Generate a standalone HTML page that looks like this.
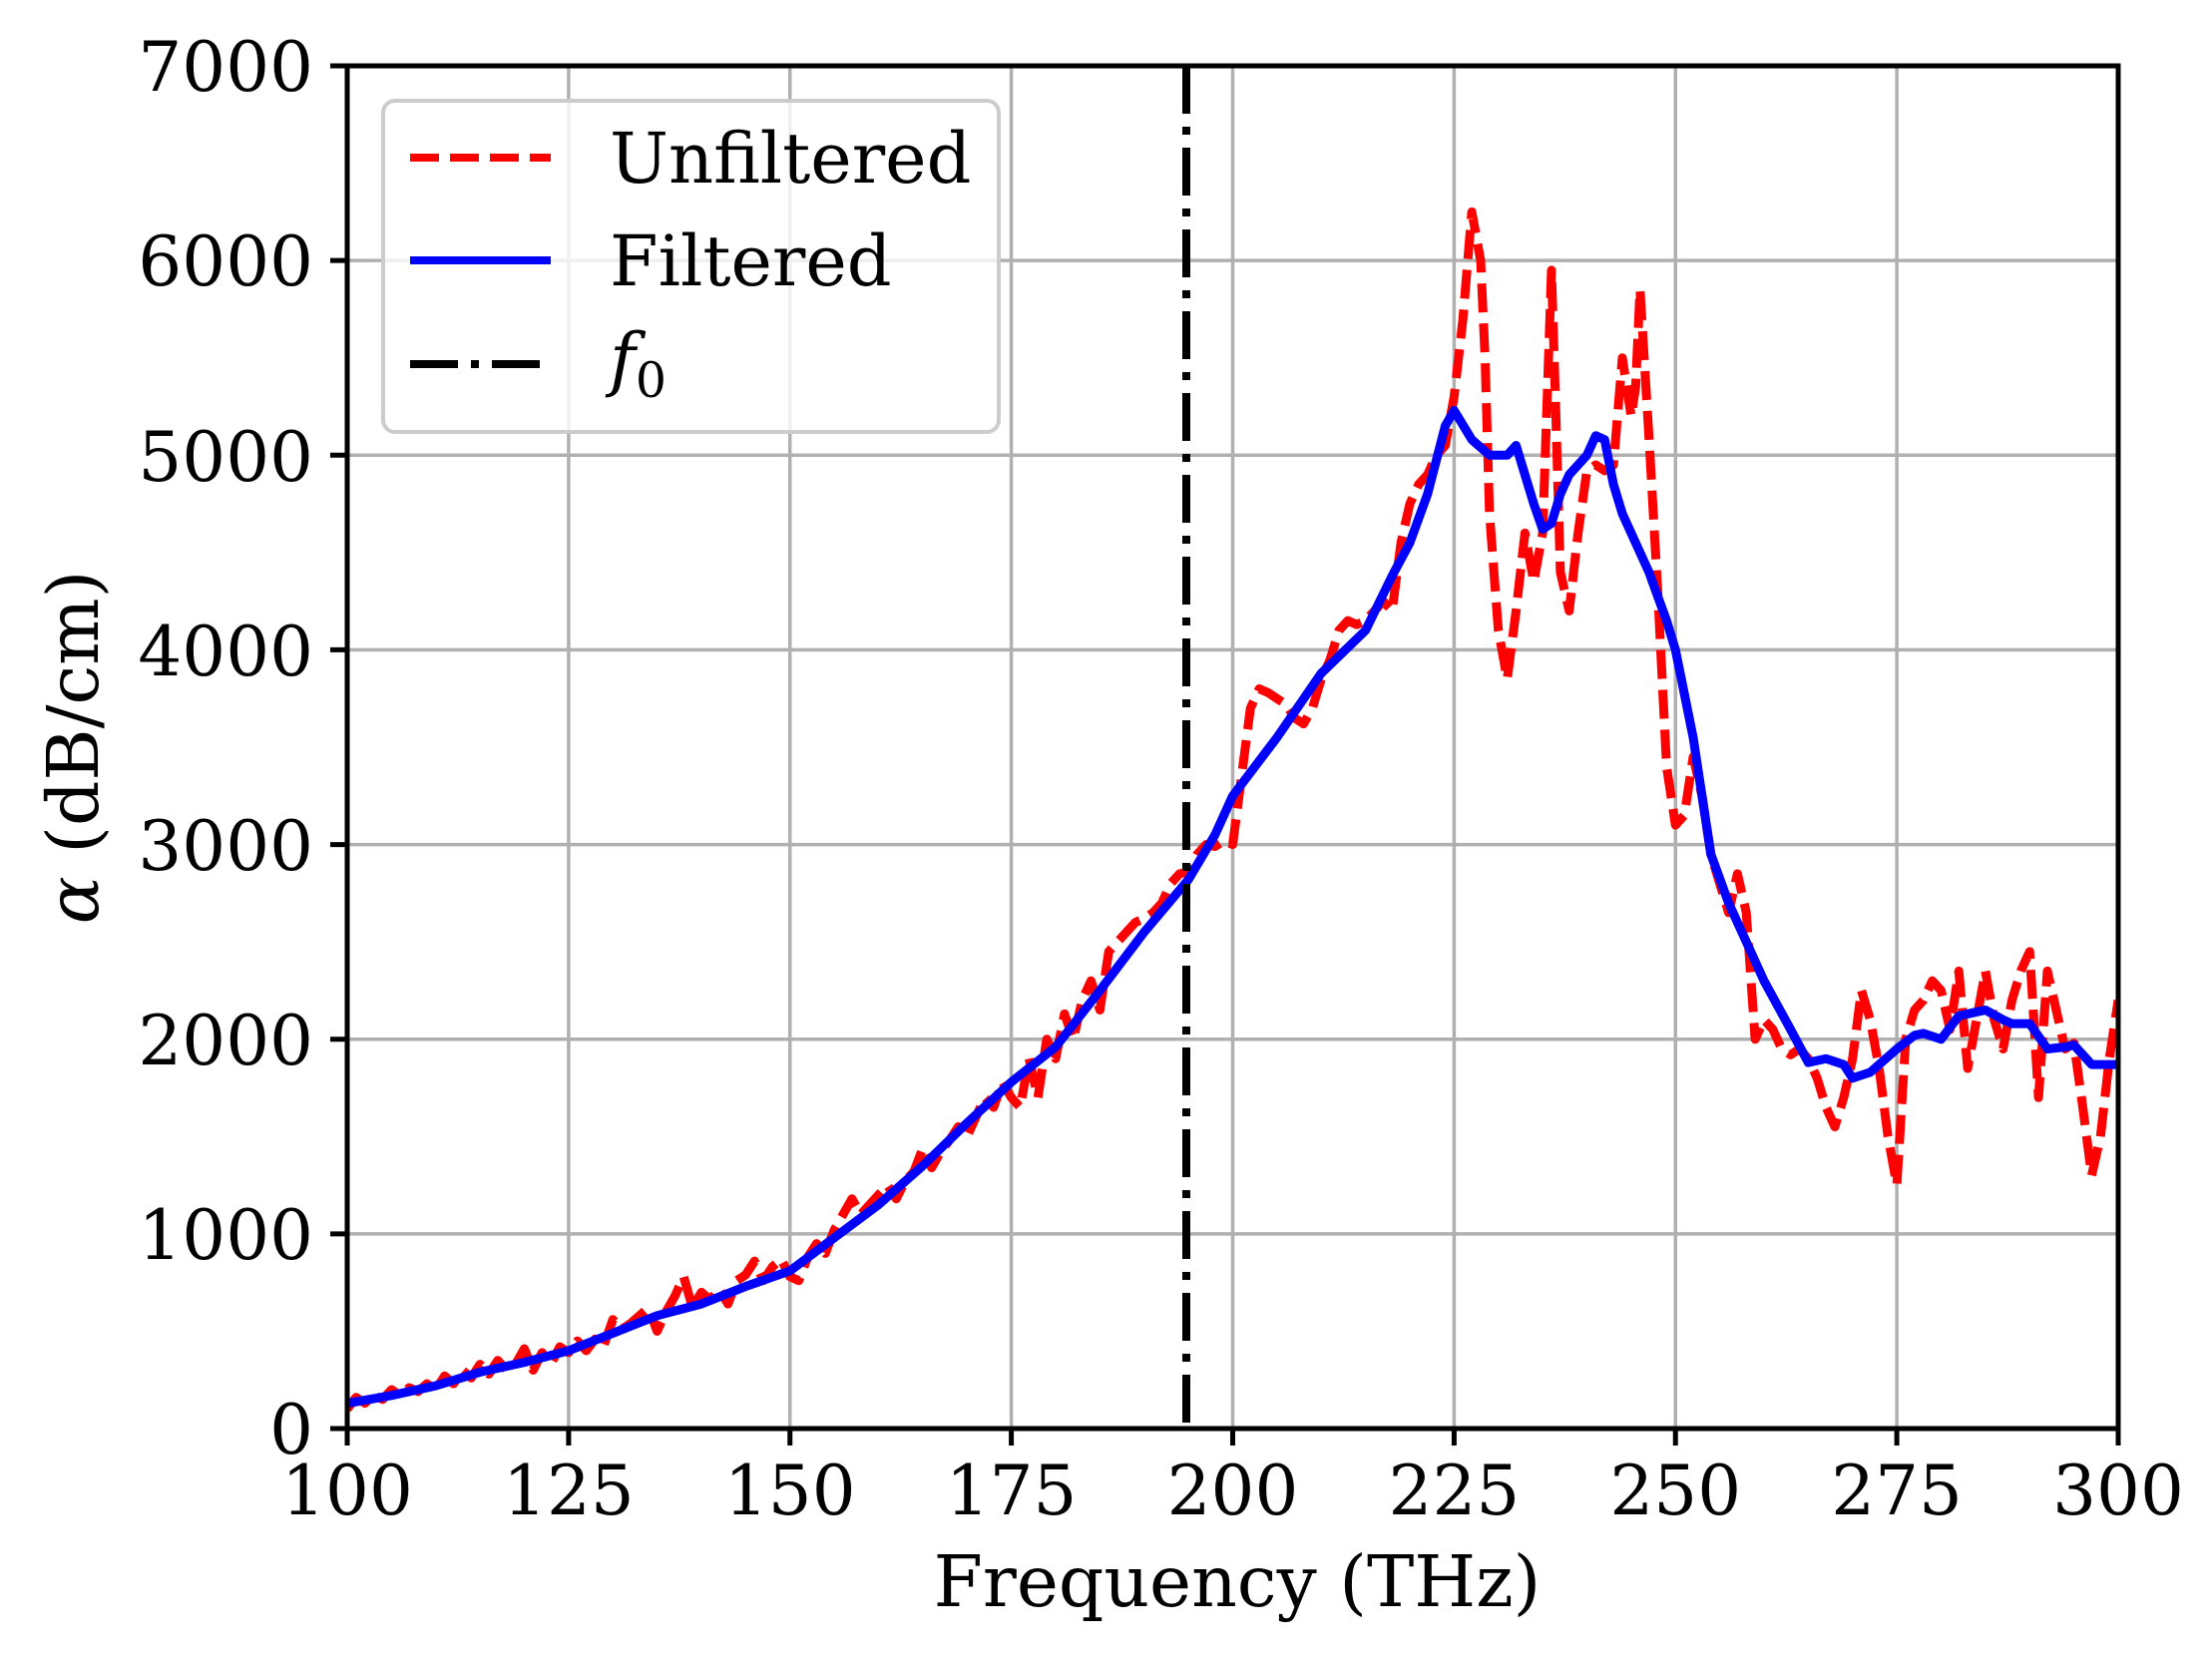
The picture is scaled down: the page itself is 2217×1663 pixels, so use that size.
<!DOCTYPE html>
<html><head><meta charset="utf-8"><style>
html,body{margin:0;padding:0;background:#fff;}
svg{display:block;font-family:"DejaVu Serif","Liberation Serif",serif;}
</style></head><body>
<svg width="2217" height="1663" viewBox="0 0 2217 1663" xmlns="http://www.w3.org/2000/svg">
<rect width="2217" height="1663" fill="#fff"/>
<g stroke="#b0b0b0" stroke-width="3.5">
<line x1="348" y1="66" x2="348" y2="1432"/>
<line x1="791.75" y1="66" x2="791.75" y2="1432"/>
<line x1="1235.5" y1="66" x2="1235.5" y2="1432"/>
<line x1="1679.25" y1="66" x2="1679.25" y2="1432"/>
<line x1="348" y1="1236.9" x2="2123" y2="1236.9"/>
<line x1="348" y1="1041.7" x2="2123" y2="1041.7"/>
<line x1="348" y1="846.6" x2="2123" y2="846.6"/>
<line x1="348" y1="651.4" x2="2123" y2="651.4"/>
<line x1="348" y1="456.3" x2="2123" y2="456.3"/>
<line x1="348" y1="261.1" x2="2123" y2="261.1"/>
<line x1="569.9" y1="66" x2="569.9" y2="1432"/>
<line x1="1013.6" y1="66" x2="1013.6" y2="1432"/>
<line x1="1457.4" y1="66" x2="1457.4" y2="1432"/>
<line x1="1901.1" y1="66" x2="1901.1" y2="1432"/>
</g>
<svg x="348" y="66" width="1775" height="1366" overflow="hidden">
<g transform="translate(0,1366) scale(8.875,-0.19514) translate(-100,0)" fill="none" stroke-linejoin="round">
<polyline vector-effect="non-scaling-stroke" stroke="#ff0000" stroke-width="9" stroke-dasharray="29,11" points="
100,100 101,160 102,130 103,170 104,150 105,200 106,170 107,210 108,190 109,230 110,200 111,270 112,230 113,300 114,260 115,330 116,280 117,350 118,300 119,330 120,410 121,300 122,390 123,330 124,420 125,390 126,450 127,400 128,460 129,430 130,560 131,510 132,540 133,580 134,620 135,500 136,600 137,680 138,780 139,620 140,700 141,660 142,720 143,640 144,760 145,790 146,860 147,760 148,830 149,870 150,780 151,760 152,880 153,950 154,900 155,1020 156,1100 157,1180 158,1100 159,1150 160,1200 161,1250 162,1180 163,1270 164,1320 165,1440 166,1340 167,1420 168,1480 169,1550 170,1500 171,1600 172,1700 173,1650 174,1780 175,1700 176,1650 177,1900 178,1700 179,2000 180,1900 181,2130 182,2000 183,2200 184,2300 185,2150 186,2450 187,2500 188,2550 189,2600 190,2620 191,2650 192,2700 193,2800 194,2850 195,2860 196,2950 197,3000 198,2990 199,3020 200,3000 201,3350 202,3700 203,3800 204,3780 205,3750 206,3720 207,3650 208,3620 209,3700 210,3850 211,3950 212,4100 213,4150 214,4130 215,4150 216,4200 217,4250 218,4200 219,4550 220,4750 221,4850 222,4900 223,5000 224,5050 225,5300 226,5700 227,6250 228,6000 228.5,5500 229,4700 230,4100 231,3850 232,4200 233,4600 234,4350 235,4600 236,5950 236.5,5200 237,4400 238,4200 239,4600 240,4920 241,4950 242,4920 243,4950 244,5500 245,5200 245.5,5350 246,5850 247,5100 248,4300 249,3400 250,3100 251,3150 252,3450 253,3250 254,2950 255,2800 256,2650 257,2850 258,2650 259,2000 260,2100 261,2050 262,1950 263,1920 264,1950 265,1900 266,1800 267,1650 268,1550 269,1700 270,1900 271,2250 272,2100 273,1850 274,1500 275,1250 276,2000 277,2150 278,2200 279,2300 280,2250 281,2050 282,2350 283,1850 284,2100 285,2350 286,2100 287,1950 288,2200 289,2350 290,2450 291,1700 292,2350 293,2150 294,1950 295,1980 296,1650 297,1300 298,1500 299,1900 300,2200"/>
<polyline vector-effect="non-scaling-stroke" stroke="#0000ff" stroke-width="9" points="
100,130 105,170 110,220 115,290 120,340 125,400 130,490 135,580 140,640 145,730 150,810 155,980 160,1150 165,1350 170,1570 175,1780 180,1960 185,2250 190,2550 195,2820 198,3050 200,3250 205,3550 210,3880 215,4100 218,4380 220,4550 222,4800 224,5150 225,5230 227,5080 229,5000 231,5000 232,5050 233,4900 234,4750 235,4620 236,4650 237,4800 238,4900 239,4950 240,5000 241,5100 242,5080 243,4850 244,4700 245,4600 247,4400 249,4150 250,4000 252,3550 253,3250 254,2950 256,2700 257,2600 260,2300 263,2050 265,1880 267,1900 269,1870 270,1800 272,1830 275,1950 277,2020 278,2030 280,2000 282,2120 285,2150 287,2100 288,2080 290,2080 292,1950 294,1960 295,1970 297,1870 300,1870"/>
</g>
</svg>
<line x1="1189" y1="66" x2="1189" y2="1432" stroke="#000" stroke-width="8" stroke-dasharray="48,13,8,13"/>
<rect x="348" y="66" width="1775" height="1366" fill="none" stroke="#000" stroke-width="5"/>
<g stroke="#000" stroke-width="5">
<line x1="348" y1="1432" x2="348" y2="1449"/>
<line x1="791.75" y1="1432" x2="791.75" y2="1449"/>
<line x1="1235.5" y1="1432" x2="1235.5" y2="1449"/>
<line x1="1679.25" y1="1432" x2="1679.25" y2="1449"/>
<line x1="2123" y1="1432" x2="2123" y2="1449"/>
<line x1="569.9" y1="1432" x2="569.9" y2="1449"/>
<line x1="1013.6" y1="1432" x2="1013.6" y2="1449"/>
<line x1="1457.4" y1="1432" x2="1457.4" y2="1449"/>
<line x1="1901.1" y1="1432" x2="1901.1" y2="1449"/>
<line x1="331" y1="1432" x2="348" y2="1432"/>
<line x1="331" y1="1236.9" x2="348" y2="1236.9"/>
<line x1="331" y1="1041.7" x2="348" y2="1041.7"/>
<line x1="331" y1="846.6" x2="348" y2="846.6"/>
<line x1="331" y1="651.4" x2="348" y2="651.4"/>
<line x1="331" y1="456.3" x2="348" y2="456.3"/>
<line x1="331" y1="261.1" x2="348" y2="261.1"/>
<line x1="331" y1="66" x2="348" y2="66"/>
</g>
<g font-size="69" fill="#000" text-anchor="middle">
<text x="348" y="1518">100</text>
<text x="569.9" y="1518">125</text>
<text x="791.75" y="1518">150</text>
<text x="1013.6" y="1518">175</text>
<text x="1235.5" y="1518">200</text>
<text x="1457.4" y="1518">225</text>
<text x="1679.25" y="1518">250</text>
<text x="1901.1" y="1518">275</text>
<text x="2123" y="1518">300</text>
</g>
<g font-size="69" fill="#000" text-anchor="end">
<text x="314" y="1457">0</text>
<text x="314" y="1262">1000</text>
<text x="314" y="1067">2000</text>
<text x="314" y="872">3000</text>
<text x="314" y="677">4000</text>
<text x="314" y="482">5000</text>
<text x="314" y="286">6000</text>
<text x="314" y="91">7000</text>
</g>
<text x="1240" y="1610" font-size="71" text-anchor="middle">Frequency (THz)</text>
<text transform="translate(98,749) rotate(-90)" font-size="71" text-anchor="middle"><tspan font-style="italic">α</tspan> (dB/cm)</text>
<rect x="384" y="101" width="617" height="332" rx="12" fill="#fff" fill-opacity="0.8" stroke="#cccccc" stroke-width="4"/>
<line x1="411" y1="158" x2="552" y2="158" stroke="#ff0000" stroke-width="8" stroke-dasharray="29,11"/>
<line x1="411" y1="261" x2="552" y2="261" stroke="#0000ff" stroke-width="8"/>
<line x1="411" y1="365" x2="552" y2="365" stroke="#000" stroke-width="8" stroke-dasharray="48,13,8,13"/>
<g font-size="70" fill="#000">
<text x="611" y="183">Unfiltered</text>
<text x="611" y="286">Filtered</text>
<text x="611" y="384" font-style="italic">f<tspan font-style="normal" font-size="49" dy="14">0</tspan></text>
</g>
</svg>
</body></html>
